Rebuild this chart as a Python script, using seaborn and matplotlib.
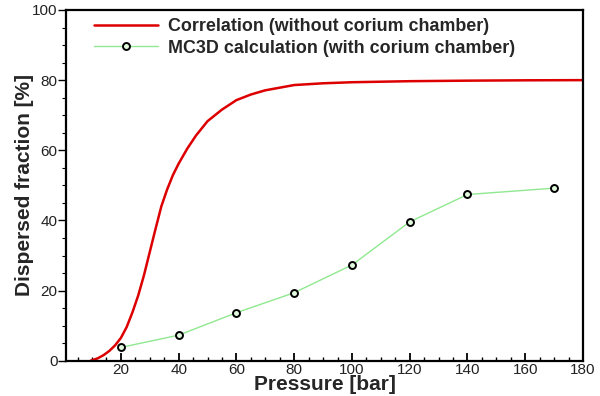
import matplotlib
matplotlib.use("Agg")
import matplotlib.pyplot as plt
import seaborn as sns
import pandas as pd
from matplotlib.ticker import MultipleLocator

# correlation curve (without corium chamber)
corr_p = [9.5, 12, 14, 16, 18, 20, 22, 24, 26, 28, 30, 32, 34, 36, 38, 40,
          43, 46, 50, 55, 60, 65, 70, 80, 90, 100, 120, 140, 160, 180]
corr_f = [0.0, 0.7, 1.6, 2.8, 4.4, 6.5, 9.6, 13.8, 18.6, 24.4, 31.0, 37.6,
          44.0, 48.8, 52.9, 56.2, 60.5, 64.2, 68.3, 71.6, 74.3, 75.9, 77.1,
          78.6, 79.1, 79.4, 79.7, 79.85, 79.95, 80.0]

# MC3D calculation points (with corium chamber)
mc3d_p = [20, 40, 60, 80, 100, 120, 140, 170]
mc3d_f = [3.8, 7.3, 13.7, 19.4, 27.3, 39.6, 47.4, 49.2]

corr = pd.DataFrame({"p": corr_p, "f": corr_f})
mc3d = pd.DataFrame({"p": mc3d_p, "f": mc3d_f})

sns.set_style("white")
plt.rcParams["font.family"] = ["Liberation Sans", "DejaVu Sans"]

fig = plt.figure(figsize=(6, 3.96), dpi=100)
ax = fig.add_axes([0.11, 0.089, 0.8617, 0.8858])

sns.lineplot(data=corr, x="p", y="f", ax=ax, color="#dd0000", linewidth=1.8,
             label="Correlation (without corium chamber)")
sns.lineplot(data=mc3d, x="p", y="f", ax=ax, color="#90e890", linewidth=1.0,
             marker="o", markersize=5, markerfacecolor="#e0f8dc",
             markeredgecolor="black", markeredgewidth=1.4,
             label="MC3D calculation (with corium chamber)")

ax.set_xlim(1, 180)
ax.set_ylim(0, 100)
ax.xaxis.set_minor_locator(MultipleLocator(5))
ax.yaxis.set_major_locator(MultipleLocator(20))
ax.yaxis.set_minor_locator(MultipleLocator(5))
ax.set_xticks([20, 40, 60, 80, 100, 120, 140, 160, 180])

ax.tick_params(axis="x", which="major", direction="in", length=5.5, width=1.3,
               labelsize=11, pad=1.5, colors="black", labelcolor="#222222")
ax.tick_params(axis="x", which="minor", direction="in", length=3, width=1.0,
               colors="black")
ax.tick_params(axis="y", which="major", direction="out", length=5.5, width=1.0,
               labelsize=11, pad=0.5, colors="black", labelcolor="#222222")
ax.tick_params(axis="y", which="minor", direction="out", length=3, width=0.8,
               colors="black")
ax.tick_params(bottom=True, left=True, which="both")

for s in ax.spines.values():
    s.set_visible(True)
    s.set_color("black")
    s.set_linewidth(1.6)

ax.set_xlabel("Pressure [bar]", fontsize=15, fontweight="bold", labelpad=-1)
ax.set_ylabel("Dispersed fraction [%]", fontsize=15, fontweight="bold", labelpad=-1)

leg = ax.legend(loc="upper left", bbox_to_anchor=(0.038, 1.0), frameon=False,
                prop={"weight": "bold", "size": 12.9}, handlelength=3.6,
                handletextpad=0.55, labelspacing=0.25, borderaxespad=0.2,
                borderpad=0.25)

fig.savefig("out.png", dpi=100)
